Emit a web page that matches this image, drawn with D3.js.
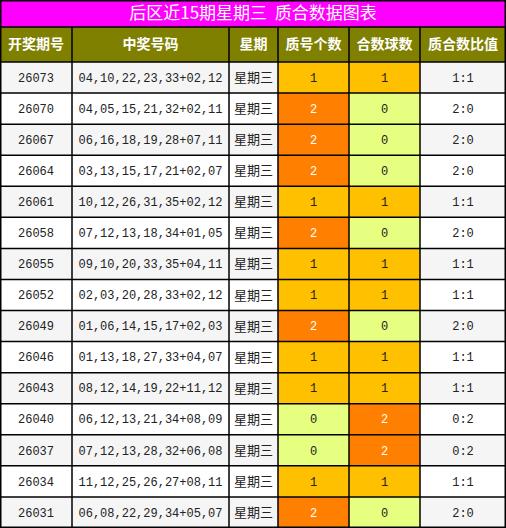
<!DOCTYPE html>
<html><head><meta charset="utf-8">
<script src="https://cdn.jsdelivr.net/npm/d3@7"></script>
<style>body{margin:0;background:#fff}</style>
</head><body><div id="canvas"></div>
<script>
const title = "后区近15期星期三  质合数据图表";
const headers = ["开奖期号","中奖号码","星期","质号个数","合数球数","质合数比值"];
const issues = ["26073","26070","26067","26064","26061","26058","26055","26052","26049","26046","26043","26040","26037","26034","26031"];
const numbers = ["04,10,22,23,33+02,12","04,05,15,21,32+02,11","06,16,18,19,28+07,11","03,13,15,17,21+02,07","10,12,26,31,35+02,12","07,12,13,18,34+01,05","09,10,20,33,35+04,11","02,03,20,28,33+02,12","01,06,14,15,17+02,03","01,13,18,27,33+04,07","08,12,14,19,22+11,12","06,12,13,21,34+08,09","07,12,13,28,32+06,08","11,12,25,26,27+08,11","06,08,22,29,34+05,07"];
const primes = [1,2,2,2,1,2,1,1,2,1,1,0,0,1,2];
const composites = [1,0,0,0,1,0,1,1,0,1,1,2,2,1,0];

const W = 506, H = 528, titleH = 27, headH = 35;
const colEdges = [0,72,229,278,349,420,506];
const svg = d3.select("#canvas").append("svg").attr("width", W).attr("height", H);

const y = d3.scaleBand().domain(issues).range([titleH + headH, H]);
const fill = {0:"#e6ff80",1:"#ffc000",2:"#ff8000"};

svg.append("rect").attr("x",0).attr("y",0).attr("width",W).attr("height",titleH).attr("fill","#ff00ff");
svg.append("text").attr("x",W/2).attr("y",titleH/2+1).attr("text-anchor","middle").attr("dominant-baseline","middle")
  .attr("fill","#fff").style("white-space","pre").style("font","17px 'Noto Sans CJK SC'").text(title);

svg.append("rect").attr("x",0).attr("y",titleH).attr("width",W).attr("height",headH).attr("fill","#808000");
headers.forEach((h,i) => {
  svg.append("text").attr("x",(colEdges[i]+colEdges[i+1])/2).attr("y",titleH+headH/2+1)
    .attr("text-anchor","middle").attr("dominant-baseline","middle").attr("fill","#fff")
    .style("font","bold 14px 'Noto Sans CJK SC'").text(h);
});

const rows = svg.selectAll("g.row").data(issues).enter().append("g").attr("class","row")
  .attr("transform", d => `translate(0,${y(d)})`);

rows.each(function(d, r) {
  const g = d3.select(this);
  const bg = r % 2 === 0 ? "#f5f5f5" : "#ffffff";
  const cells = [
    {t:d, f:bg, c:"#222", mono:true},
    {t:numbers[r], f:bg, c:"#222", mono:true},
    {t:"星期三", f:bg, c:"#222", mono:false},
    {t:String(primes[r]), f:fill[primes[r]], c:primes[r]===2?"#fff":"#222", mono:true},
    {t:String(composites[r]), f:fill[composites[r]], c:composites[r]===2?"#fff":"#222", mono:true},
    {t:primes[r]+":"+composites[r], f:bg, c:"#222", mono:true}
  ];
  cells.forEach((c,i) => {
    g.append("rect").attr("x",colEdges[i]).attr("y",0).attr("width",colEdges[i+1]-colEdges[i]).attr("height",y.bandwidth()).attr("fill",c.f);
    g.append("text").attr("x",(colEdges[i]+colEdges[i+1])/2).attr("y",y.bandwidth()/2+1)
      .attr("text-anchor","middle").attr("dominant-baseline","middle").attr("fill",c.c)
      .style("font", c.mono ? "12px 'Liberation Mono'" : "13px 'Noto Sans CJK SC'").text(c.t);
  });
});

// grid lines
const lines = svg.append("g").attr("stroke","#000").attr("stroke-width",1.5);
[titleH, titleH+headH].concat(issues.map(d=>y(d)+y.bandwidth())).forEach(v =>
  lines.append("line").attr("x1",0).attr("x2",W).attr("y1",v).attr("y2",v));
colEdges.forEach(x => lines.append("line").attr("x1",x).attr("x2",x).attr("y1",titleH).attr("y2",H));
svg.append("rect").attr("x",0.75).attr("y",0.75).attr("width",W-1.5).attr("height",H-1.5).attr("fill","none").attr("stroke","#000").attr("stroke-width",1.5);
</script></body></html>
